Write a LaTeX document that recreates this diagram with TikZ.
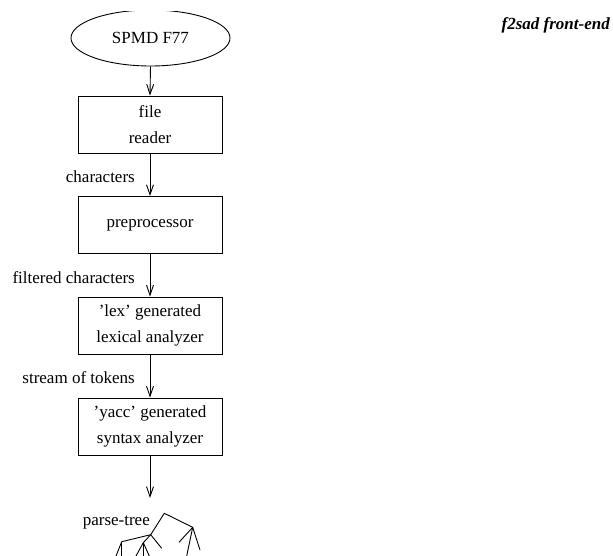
\documentclass[tikz,border=0pt]{standalone}
\usepackage{fontspec}
\setmainfont{Liberation Serif}
\usetikzlibrary{shapes.geometric,arrows.meta}
\begin{document}
\begin{tikzpicture}[x=1pt,y=-1pt,
  every node/.style={font=\fontsize{17}{26}\selectfont},
  stagebox/.style={draw,line width=0.9pt,minimum width=144pt,minimum height=57pt,inner sep=0pt,align=center},
  srcell/.style={draw,line width=0.9pt,ellipse,minimum width=159pt,minimum height=56pt,inner sep=0pt},
  flow/.style={line width=0.9pt,-{Straight Barb[length=10pt,width=7pt]}},
  lbl/.style={anchor=east,inner sep=0pt},
  treeline/.style={line width=0.9pt}]
\useasboundingbox (0,0) rectangle (613,556);
\clip (0,11.5) rectangle (613,556);
\node[srcell] (src) at (150.5,38) {SPMD F77};
\node[stagebox] (reader) at (150,124.5) {file\\reader};
\node[stagebox] (pre) at (150,225) {preprocessor};
\node[stagebox] (lex) at (150,325.5) {'lex' generated\\lexical analyzer};
\node[stagebox] (yacc) at (150,426.5) {'yacc' generated\\syntax analyzer};
\coordinate (out) at (150,498);
\draw[flow] (src.south) -- (reader.north);
\draw[flow] (reader.south) -- (pre.north);
\draw[flow] (pre.south) -- (lex.north);
\draw[flow] (lex.south) -- (yacc.north);
\draw[flow] (yacc.south) -- (out);
\node[lbl] (l1) at (135,177) {characters};
\node[lbl] (l2) at (135,278) {filtered characters};
\node[lbl] (l3) at (135,378) {stream of tokens};
\node[lbl] (l4) at (150,523) {parse-tree};
\node[anchor=east,inner sep=0pt,font=\fontsize{17}{20}\selectfont\bfseries\itshape] (title) at (610,25) {f2sad front-end};
% parse tree
\coordinate (r) at (164.3,513.3);
\coordinate (n1) at (150.7,534.7);
\coordinate (n2) at (192.7,527.3);
\coordinate (n11) at (121.7,541.7);
\coordinate (n12) at (143.3,542.7);
\coordinate (n13) at (161.7,548.3);
\coordinate (n21) at (179,542.3);
\coordinate (n22) at (186.7,556);
\coordinate (n23) at (200,550);
\coordinate (n111) at (116,556);
\coordinate (n112) at (121.7,556);
\coordinate (n121) at (136,556);
\coordinate (n122) at (143.3,556);
\coordinate (n123) at (149.3,556);
\draw[treeline] (n1) -- (r) -- (n2);
\draw[treeline] (n1) -- (n11);
\draw[treeline] (n1) -- (n12);
\draw[treeline] (n1) -- (n13);
\draw[treeline] (n2) -- (n21);
\draw[treeline] (n2) -- (n22);
\draw[treeline] (n2) -- (n23);
\draw[treeline] (n11) -- (n111);
\draw[treeline] (n11) -- (n112);
\draw[treeline] (n12) -- (n121);
\draw[treeline] (n12) -- (n122);
\draw[treeline] (n12) -- (n123);
\end{tikzpicture}
\end{document}
